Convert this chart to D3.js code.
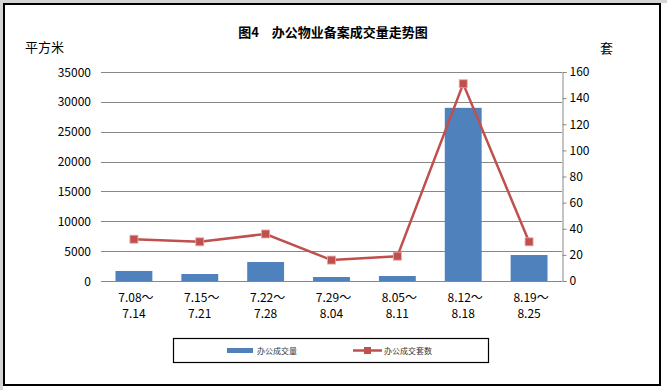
<!DOCTYPE html>
<html>
<head>
<meta charset="utf-8">
<script src="https://cdn.jsdelivr.net/npm/d3@7"></script>
<style>
  body { margin:0; background:#fff; }
  svg { display:block; }
  text { font-family: "Noto Sans CJK SC", "DejaVu Sans", sans-serif; }
</style>
</head>
<body>
<svg id="chart" width="667" height="390"></svg>
<script>
// data
var weeks = [["7.08～","7.14"],["7.15～","7.21"],["7.22～","7.28"],["7.29～","8.04"],["8.05～","8.11"],["8.12～","8.18"],["8.19～","8.25"]];
var areaVals = [1680, 1170, 3180, 670, 840, 29000, 4350];   // 办公成交量 (平方米)
var unitVals = [32, 30, 36, 16, 19, 151, 30];               // 办公成交套数 (套)
var leftTicks = [0,5000,10000,15000,20000,25000,30000,35000];
var rightTicks = [0,20,40,60,80,100,120,140,160];

function drawChart() {
  var svg = d3.select("#chart");

  // frame
  svg.append("rect").attr("x",0).attr("y",0).attr("width",667).attr("height",3).attr("fill","#d4d4d4");
  svg.append("rect").attr("x",0).attr("y",0).attr("width",3).attr("height",390).attr("fill","#d4d4d4");
  svg.append("rect").attr("x",4).attr("y",4).attr("width",656).attr("height",381)
    .attr("fill","#fff").attr("stroke","#000").attr("stroke-width",2);

  var pLeft = 101, pRight = 562, pTop = 72, pBottom = 281;

  var x = d3.scaleBand().domain(d3.range(weeks.length)).range([pLeft,pRight]).paddingInner(0.44).paddingOuter(0.22);
  var yL = d3.scaleLinear().domain([0,35000]).range([pBottom,pTop]);
  var yR = d3.scaleLinear().domain([0,160]).range([pBottom,pTop]);

  // gridlines
  svg.append("g").selectAll("line").data(leftTicks).join("line")
    .attr("x1",pLeft).attr("x2",pRight)
    .attr("y1",d=>Math.round(yL(d))+0.5).attr("y2",d=>Math.round(yL(d))+0.5)
    .attr("stroke","#878787").attr("stroke-width",1);

  // left labels
  svg.append("g").selectAll("text").data(leftTicks).join("text")
    .attr("x",91).attr("y",d=>yL(d)+4.5)
    .attr("text-anchor","end").attr("font-size",12).attr("fill","#000")
    .text(d=>d);

  // right axis
  var rAxis = svg.append("g").attr("transform","translate("+(pRight+0.5)+",0)")
    .call(d3.axisRight(yR).tickValues(rightTicks).tickSize(4).tickPadding(3));
  rAxis.select(".domain").attr("stroke","#878787");
  rAxis.selectAll(".tick line").attr("stroke","#878787");
  rAxis.selectAll("text").attr("font-size",12).attr("fill","#000")
    .attr("font-family","\"Noto Sans CJK SC\", \"DejaVu Sans\", sans-serif");

  // bars
  svg.append("g").selectAll("rect").data(areaVals).join("rect")
    .attr("x",(d,i)=>x(i)).attr("width",x.bandwidth())
    .attr("y",d=>yL(d)).attr("height",d=>pBottom-yL(d))
    .attr("fill","#4f81bd");

  // line
  var line = d3.line().x((d,i)=>x(i)+x.bandwidth()/2).y(d=>yR(d));
  svg.append("path").datum(unitVals).attr("d",line)
    .attr("fill","none").attr("stroke","#c0504d").attr("stroke-width",2.5);
  svg.append("g").selectAll("rect").data(unitVals).join("rect")
    .attr("x",(d,i)=>x(i)+x.bandwidth()/2-4).attr("y",d=>yR(d)-4)
    .attr("width",8).attr("height",8)
    .attr("fill","#c0504d").attr("stroke","#e6a9a8").attr("stroke-width",0.8);

  // x labels
  var xl = svg.append("g").selectAll("text").data(weeks).join("text")
    .attr("text-anchor","middle").attr("font-size",12).attr("fill","#000");
  xl.append("tspan").attr("x",(d,i)=>x(i)+x.bandwidth()/2+2).attr("y",302).text(d=>d[0]);
  xl.append("tspan").attr("x",(d,i)=>x(i)+x.bandwidth()/2).attr("y",318).text(d=>d[1]);

  // title & units
  svg.append("text").attr("x",333).attr("y",37).attr("text-anchor","middle")
    .attr("font-size",13).attr("font-weight","bold").text("图4　办公物业备案成交量走势图");
  svg.append("text").attr("x",25).attr("y",52).attr("font-size",13).text("平方米");
  svg.append("text").attr("x",600).attr("y",53).attr("font-size",13).text("套");

  // legend
  svg.append("rect").attr("x",173.5).attr("y",338.5).attr("width",315).attr("height",24)
    .attr("fill","#fff").attr("stroke","#000").attr("stroke-width",1.2);
  svg.append("rect").attr("x",227).attr("y",348).attr("width",26).attr("height",5).attr("fill","#4f81bd");
  svg.append("text").attr("x",257).attr("y",354).attr("font-size",8).attr("fill","#333").text("办公成交量");
  svg.append("line").attr("x1",353).attr("x2",382).attr("y1",350.5).attr("y2",350.5)
    .attr("stroke","#c0504d").attr("stroke-width",2.5);
  svg.append("rect").attr("x",364).attr("y",347).attr("width",7).attr("height",7).attr("fill","#c0504d");
  svg.append("text").attr("x",384).attr("y",354).attr("font-size",8).attr("fill","#333").text("办公成交套数");
}
drawChart();
</script>
</body>
</html>
